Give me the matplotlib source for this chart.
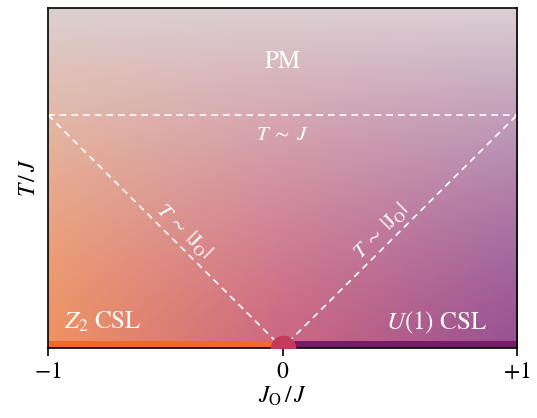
import matplotlib
matplotlib.use("Agg")
import matplotlib.pyplot as plt
import numpy as np
from matplotlib.colors import to_rgb

plt.rcParams['font.family'] = 'STIXGeneral'
plt.rcParams['mathtext.fontset'] = 'stix'

# crossover lines of the phase diagram
JO_edges = [-1, 0, 1]          # x of the V shaped crossover
T_edges = [0.685, 0.0, 0.685]  # T/J at those points
T_J = 0.685                    # horizontal crossover T ~ J
xticks = [-1, 0, 1]
xticklabels = [r'$-1$', r'$0$', r'$+1$']

# gradient background
c_left = np.array(to_rgb('#ef9262'))
c_mid = np.array(to_rgb('#cc6882'))
c_right = np.array(to_rgb('#985293'))
c_top = np.array(to_rgb('#dbd0d3'))

nx, ny = 400, 300
xs = np.linspace(-1, 1, nx)
ys = np.linspace(0, 1, ny)
bottom = np.zeros((nx, 3))
for k in range(3):
    bottom[:, k] = np.interp(xs, [-1, 0, 1], [c_left[k], c_mid[k], c_right[k]])
w = (ys ** 1.3)[:, None, None]
img = bottom[None, :, :] * (1 - w) + c_top[None, None, :] * w

fig = plt.figure(figsize=(5.37, 4.18), dpi=100)
ax = fig.add_axes([0.0894, 0.1675, 0.8734, 0.8135])
ax.imshow(img, origin='lower', extent=[-1, 1, 0, 1], aspect='auto', interpolation='bilinear')

# crossover lines
ax.plot(JO_edges, T_edges, ls='--', color='white', lw=1.2, dashes=(4, 3))
ax.plot([-1, 1], [T_J, T_J], ls='--', color='white', lw=1.2, dashes=(4, 3))

# ground state bars
ax.axhspan(0, 0.022, xmin=0, xmax=0.5, color='#ee6a26', lw=0)
ax.axhspan(0, 0.022, xmin=0.5, xmax=1, color='#7a1a6b', lw=0)
ax.scatter([0], [0], s=340, color='#c43a5a', zorder=5, clip_on=True, lw=0)

# labels
lab = r'$T\;\sim\;|\mathrm{J_O}|$'
ax.text(0, 0.84, 'PM', color='white', fontsize=18, ha='center', va='center')
ax.text(0, 0.625, r'$T\;\sim\;J$', color='white', fontsize=15, ha='center', va='center')
ax.text(-0.42, 0.345, lab, color='white', fontsize=15,
        ha='center', va='center', rotation=-45)
ax.text(0.42, 0.345, lab, color='white', fontsize=15,
        ha='center', va='center', rotation=45)
ax.text(-0.93, 0.075, r'$Z_2$ CSL', color='white', fontsize=18, ha='left', va='center')
ax.text(0.87, 0.075, r'$U(1)$ CSL', color='white', fontsize=18, ha='right', va='center')

ax.set_xlim(-1, 1)
ax.set_ylim(0, 1)
ax.set_xticks(xticks)
ax.set_xticklabels(xticklabels, fontsize=17)
ax.set_yticks([])
ax.tick_params(axis='x', direction='out', length=6, width=1.2, pad=4)
ax.set_xlabel(r'$J_{\rm O}\,/\,J$', fontsize=17, labelpad=1)
ax.set_ylabel(r'$T\,/\,J$', fontsize=17, labelpad=6)
for s in ax.spines.values():
    s.set_linewidth(1.2)

fig.savefig('out.png', dpi=100)
